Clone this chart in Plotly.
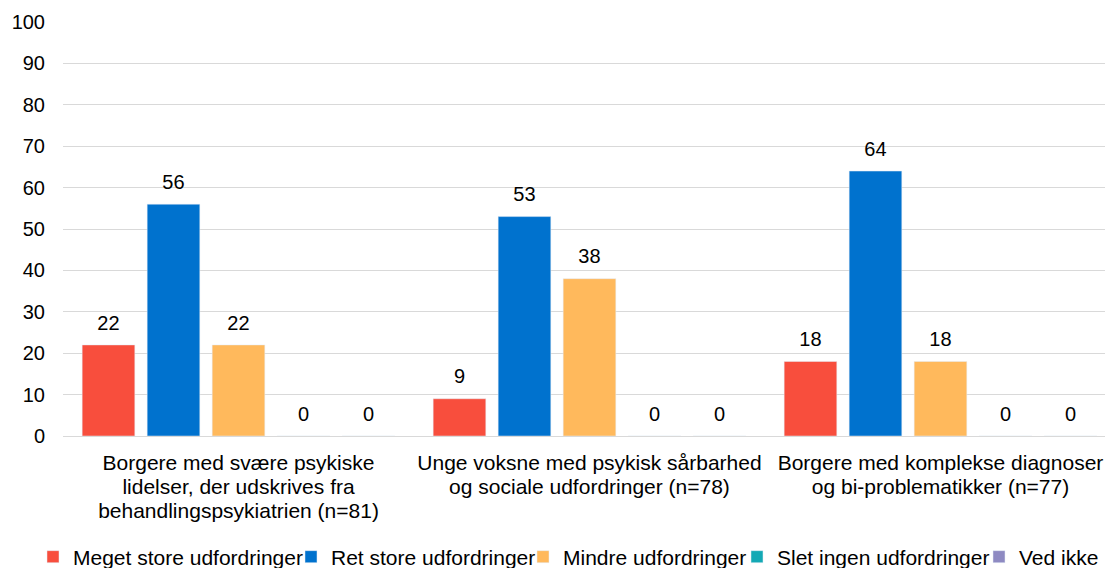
import plotly.graph_objects as go

categories = [
    "Borgere med svære psykiske<br>lidelser, der udskrives fra<br>behandlingspsykiatrien (n=81)",
    "Unge voksne med psykisk sårbarhed<br>og sociale udfordringer (n=78)",
    "Borgere med komplekse diagnoser<br>og bi-problematikker (n=77)",
]
series_names = [
    "Meget store udfordringer",
    "Ret store udfordringer",
    "Mindre udfordringer",
    "Slet ingen udfordringer",
    "Ved ikke",
]
meget_store = [22, 9, 18]
ret_store = [56, 53, 64]
mindre = [22, 38, 18]
slet_ingen = [0, 0, 0]
ved_ikke = [0, 0, 0]
series_values = [meget_store, ret_store, mindre, slet_ingen, ved_ikke]
colors = ["#F84E3D", "#0072CE", "#FFB95C", "#14A9B5", "#8E8AC2"]
y_ticks = [0, 10, 20, 30, 40, 50, 60, 70, 80, 90, 100]

# legend item left positions (pixels, container coordinates)
legend_x_px = [33, 291, 523, 737, 979]

font_family = "Liberation Sans, Arial, sans-serif"
W, H = 1105, 568


def big(s, size):
    return "<br>".join(f"<span style='font-size:{size}px'>{ln}</span>" for ln in s.split("<br>"))


fig = go.Figure()
layout_legends = {}
for i, (name, vals, col) in enumerate(zip(series_names, series_values, colors)):
    lg = "legend" if i == 0 else f"legend{i + 1}"
    labels = [f"<span style='font-size:20px'>{v}</span><br>"
              f"<span style='color:rgba(0,0,0,0)'>.</span>" for v in vals]
    fig.add_trace(go.Bar(
        x=categories, y=vals, name=name, marker_color=col,
        text=labels, textposition="outside", constraintext="none",
        textfont=dict(size=8, color="#000000", family=font_family),
        cliponaxis=False, legend=lg, hoverinfo="x+y+name",
    ))
    layout_legends[lg] = dict(
        orientation="h", xref="container", yref="container",
        x=legend_x_px[i] / W, xanchor="left",
        y=1 - 557 / H, yanchor="middle",
        font=dict(size=21, color="#000000", family=font_family),
        itemwidth=30, bgcolor="rgba(0,0,0,0)",
    )

fig.update_layout(
    width=W, height=H,
    margin=dict(l=63, r=0, t=22, b=132),
    paper_bgcolor="white", plot_bgcolor="white",
    barmode="group", bargap=0.074, bargroupgap=0.19,
    font=dict(family=font_family, size=21, color="#000000"),
    showlegend=True,
    **layout_legends,
)
fig.update_yaxes(range=[0, 100], tickvals=y_ticks, showgrid=True, gridcolor="#D9D9D9",
                 gridwidth=1, zeroline=True, zerolinecolor="#D9D9D9", zerolinewidth=1,
                 showline=False, ticks="", ticklabelstandoff=17, automargin=False,
                 tickfont=dict(size=20, color="#000000"))
# the original plot area extends past the right edge of the image (cropped)
fig.update_xaxes(showline=False, ticks="", ticklabelstandoff=14, automargin=False,
                 range=[-0.5, 2.4687],
                 tickmode="array", tickvals=categories,
                 ticktext=[big(c, 21) for c in categories],
                 tickfont=dict(size=18.5, color="#000000"))

fig.write_html("out.html", config={"displayModeBar": False},
               post_script="document.body.style.margin='0';document.body.style.overflow='hidden';")
